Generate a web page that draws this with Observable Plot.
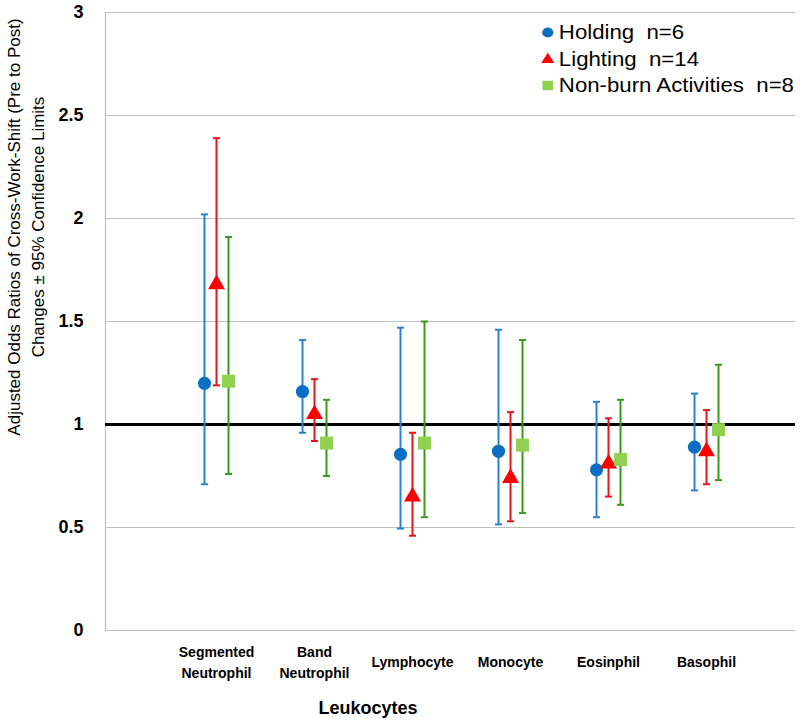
<!DOCTYPE html>
<html>
<head>
<meta charset="utf-8">
<script src="https://cdn.jsdelivr.net/npm/d3@7"></script>
<script src="https://cdn.jsdelivr.net/npm/@observablehq/plot@0.6"></script>
<style>
  body { margin: 0; background: #fff; font-family: "Liberation Sans", Arial, sans-serif; }
  #wrap { position: relative; width: 800px; height: 723px; }
  #ytitle { position: absolute; left: -223px; top: 203px; width: 500px; height: 48px;
    transform: rotate(-90deg); transform-origin: 50% 50%; text-align: center;
    font-size: 17px; line-height: 24px; color: #000; }
  #xtitle { position: absolute; left: 268px; top: 697px; width: 200px; text-align: center;
    font-size: 18px; font-weight: bold; line-height: 22px; color: #000; }
  #legend { position: absolute; left: 540px; top: 19px; font-size: 20px; color: #000;
    transform: scaleX(1.11); transform-origin: 0 0; }
  #legend .row { height: 26.5px; line-height: 26.5px; white-space: pre; display: flex; align-items: center; }
  #legend svg { margin-right: 3px; }
</style>
</head>
<body>
<div id="wrap">
  <div id="chart"></div>
  <div id="ytitle">Adjusted Odds Ratios of Cross-Work-Shift (Pre to Post)<br>Changes &#177; 95% Confidence Limits</div>
  <div id="xtitle">Leukocytes</div>
  <div id="legend"></div>
</div>
<script>
const categories = ["Segmented Neutrophil", "Band Neutrophil", "Lymphocyte", "Monocyte", "Eosinphil", "Basophil"];
const categoryLabels = ["Segmented\nNeutrophil", "Band\nNeutrophil", "Lymphocyte", "Monocyte", "Eosinphil", "Basophil"];
const yTicks = [0, 0.5, 1, 1.5, 2, 2.5, 3];

const seriesNames = ["Holding  n=6", "Lighting  n=14", "Non-burn Activities  n=8"];

const holdingOR = [1.20, 1.16, 0.855, 0.87, 0.78, 0.89];
const holdingLo = [0.71, 0.96, 0.495, 0.515, 0.55, 0.68];
const holdingHi = [2.02, 1.41, 1.47, 1.46, 1.11, 1.15];

const lightingOR = [1.68, 1.05, 0.65, 0.74, 0.81, 0.87];
const lightingLo = [1.19, 0.92, 0.46, 0.53, 0.65, 0.71];
const lightingHi = [2.39, 1.22, 0.96, 1.06, 1.03, 1.07];

const nonburnOR = [1.21, 0.91, 0.91, 0.90, 0.83, 0.975];
const nonburnLo = [0.76, 0.75, 0.55, 0.57, 0.61, 0.73];
const nonburnHi = [1.91, 1.12, 1.50, 1.41, 1.12, 1.29];

const styles = [
  {name: seriesNames[0], or: holdingOR, lo: holdingLo, hi: holdingHi, dx: -12, bar: "#2583d4", fill: "#0a6fc2", symbol: "circle", r: 6.6},
  {name: seriesNames[1], or: lightingOR, lo: lightingLo, hi: lightingHi, dx: 0, bar: "#e8141c", fill: "#ff0000", symbol: "triangle", r: 6.3},
  {name: seriesNames[2], or: nonburnOR, lo: nonburnLo, hi: nonburnHi, dx: 12, bar: "#3a9a1c", fill: "#92d050", symbol: "square", r: 7.3}
];

const capSymbol = {
  draw(context, size) {
    const w = Math.sqrt(size) / 2;
    context.moveTo(-w, 0);
    context.lineTo(w, 0);
  }
};

const marks = [
  Plot.gridY(yTicks.filter(d => d !== 1), {stroke: "#bfbfbf", strokeOpacity: 1, strokeWidth: 1.2}),
  Plot.frame({anchor: "left", stroke: "#bfbfbf", strokeWidth: 1.2}),
  Plot.ruleY([1], {stroke: "#000", strokeWidth: 3}),
  Plot.axisY({ticks: yTicks, tickSize: 0, tickPadding: 22, fontSize: 18, fontWeight: "bold", tickFormat: d => String(d), label: null}),
  Plot.axisX({tickSize: 0, tickPadding: 30, fontSize: 14, fontWeight: "bold", lineAnchor: "middle", lineHeight: 1.5,
    tickFormat: d => categoryLabels[categories.indexOf(d)], label: null})
];

for (const s of styles) {
  const rows = categories.map((c, i) => ({cat: c, or: s.or[i], lo: s.lo[i], hi: s.hi[i]}));
  marks.push(
    Plot.ruleX(rows, {x: "cat", y1: "lo", y2: "hi", dx: s.dx, stroke: s.bar, strokeWidth: 2}),
    Plot.dot(rows, {x: "cat", y: "lo", dx: s.dx, symbol: capSymbol, r: 4, stroke: s.bar, strokeWidth: 2}),
    Plot.dot(rows, {x: "cat", y: "hi", dx: s.dx, symbol: capSymbol, r: 4, stroke: s.bar, strokeWidth: 2}),
    Plot.dot(rows, {x: "cat", y: "or", dx: s.dx, symbol: s.symbol, r: s.r, fill: s.fill, stroke: "none"})
  );
}

const chart = Plot.plot({
  width: 800,
  height: 723,
  marginTop: 12,
  marginBottom: 93,
  marginLeft: 105,
  marginRight: 5,
  style: {fontFamily: "'Liberation Sans', Arial, sans-serif", color: "#000", background: "#fff"},
  x: {type: "point", domain: categories, range: [214, 708], padding: 0, axis: null},
  y: {domain: [0, 3], axis: null},
  marks
});
document.getElementById("chart").append(chart);

// legend
const legend = d3.select("#legend");
styles.forEach(s => {
  const row = legend.append("div").attr("class", "row");
  const svg = row.append("svg").attr("width", 14).attr("height", 14);
  const sym = {circle: d3.symbolCircle, triangle: d3.symbolTriangle, square: d3.symbolSquare}[s.symbol];
  svg.append("path").attr("transform", "translate(7,7.5)")
    .attr("d", d3.symbol(sym, s.symbol === "circle" ? 80 : s.symbol === "triangle" ? 60 : 90)())
    .attr("fill", s.fill);
  row.append("span").text(s.name);
});
</script>
</body>
</html>
